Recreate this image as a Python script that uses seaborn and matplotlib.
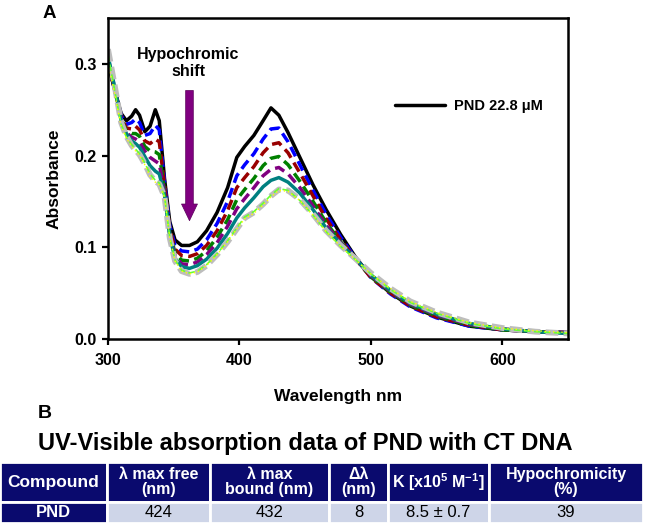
import numpy as np
import pandas as pd
import matplotlib
matplotlib.use("Agg")
import matplotlib.pyplot as plt
import seaborn as sns
from matplotlib.lines import Line2D


# =========================
#  Data
# =========================

wavelength = [300, 305, 310, 314, 318, 321, 324, 328, 332, 336,
              339, 343, 347, 351, 356, 362, 368, 375, 383, 391,
              398, 404, 411, 418, 424, 430, 437, 446, 456, 466,
              477, 488, 500, 515, 530, 550, 575, 600, 625, 650]

abs_black = [.300, .272, .246, .238, .243, .250, .244, .226, .232, .250,
             .238, .175, .128, .108, .102, .102, .106, .118, .138, .165,
             .198, .210, .222, .238, .252, .244, .225, .198, .168, .141,
             .114, .090, .068, .050, .036, .024, .014, .010, .008, .007]
abs_blue = [.302, .272, .244, .234, .236, .240, .236, .222, .224, .233,
            .228, .172, .124, .102, .096, .095, .098, .108, .126, .150,
            .178, .190, .202, .218, .229, .230, .215, .190, .162, .136,
            .111, .089, .067, .049, .035, .023, .014, .010, .008, .007]
abs_red = [.303, .272, .242, .230, .229, .232, .228, .216, .213, .218,
           .215, .168, .120, .098, .091, .090, .093, .102, .118, .140,
           .165, .176, .188, .203, .212, .214, .203, .181, .156, .131,
           .108, .088, .067, .050, .036, .024, .015, .010, .008, .007]
abs_green = [.305, .273, .240, .227, .224, .224, .221, .210, .205, .204,
             .201, .163, .116, .094, .086, .085, .088, .096, .111, .130,
             .152, .163, .175, .189, .197, .199, .190, .172, .150, .127,
             .106, .088, .068, .051, .037, .025, .015, .010, .008, .007]
abs_purple = [.307, .274, .239, .225, .220, .218, .215, .205, .198, .194,
              .191, .160, .114, .091, .082, .081, .084, .092, .105, .123,
              .142, .153, .165, .178, .185, .187, .180, .165, .145, .124,
              .105, .088, .069, .052, .038, .026, .016, .011, .008, .007]
abs_teal = [.309, .275, .238, .224, .216, .213, .209, .199, .189, .183,
            .180, .157, .112, .088, .079, .077, .080, .087, .099, .115,
            .132, .143, .154, .166, .173, .176, .171, .159, .141, .121,
            .104, .088, .070, .053, .039, .027, .017, .011, .008, .006]
abs_grey = [.316, .277, .236, .221, .211, .206, .201, .191, .179, .172,
            .169, .155, .110, .085, .074, .071, .073, .080, .092, .106,
            .120, .132, .138, .147, .156, .163, .162, .152, .136, .118,
            .102, .088, .072, .055, .041, .029, .018, .012, .008, .006]
abs_lime = [.310, .272, .234, .220, .212, .207, .202, .192, .180, .173,
            .170, .156, .111, .086, .075, .072, .074, .081, .093, .107,
            .121, .133, .139, .148, .157, .164, .162, .151, .135, .117,
            .101, .087, .071, .054, .040, .028, .017, .011, .008, .006]
abs_yellow = [.300, .268, .232, .219, .210, .205, .200, .190, .177, .171,
              .168, .154, .110, .085, .074, .071, .073, .080, .092, .106,
              .120, .131, .137, .146, .155, .162, .161, .151, .135, .117,
              .101, .087, .071, .055, .041, .029, .018, .012, .009, .007]

curve_names = ["black", "blue", "red", "green", "purple", "teal", "grey", "lime", "yellow"]
curve_values = [abs_black, abs_blue, abs_red, abs_green, abs_purple,
                abs_teal, abs_grey, abs_lime, abs_yellow]

legend_label = "PND 22.8 \u03bcM"

table_columns = ["Compound", "\u03bb max free\n(nm)", "\u03bb max\nbound (nm)",
                 "\u0394\u03bb\n(nm)", "K [x10$^{5}$ M$^{-1}$]", "Hypochromicity\n(%)"]
table_row = ["PND", "424", "432", "8", "8.5 \u00b1 0.7", "39"]

# =========================
#  Styles
# =========================

palette = {"black": "#000000", "blue": "#0000FF", "red": "#990000",
           "green": "#008000", "purple": "#800080", "teal": "#008080",
           "grey": "#BDBDBD", "lime": "#66FF33", "yellow": "#FFFF00"}
dashes = {"black": "", "blue": (3, 1.6), "red": (3, 1.6), "green": (3, 1.6),
          "purple": (3, 1.6), "teal": "", "grey": (2.2, 0.9),
          "lime": (4, 2), "yellow": (1, 2)}
sizes = {"black": 2.5, "blue": 2.5, "red": 2.5, "green": 2.5, "purple": 2.5,
         "teal": 2.5, "grey": 4.2, "lime": 1.2, "yellow": 1.0}

sns.set_style("ticks")
plt.rcParams["font.family"] = ["Liberation Sans", "DejaVu Sans"]
plt.rcParams["font.weight"] = "bold"
plt.rcParams["mathtext.default"] = "regular"
for key in ["text.color", "axes.labelcolor", "xtick.color", "ytick.color", "axes.edgecolor"]:
    plt.rcParams[key] = "black"

df = pd.DataFrame({
    "wavelength": np.tile(wavelength, len(curve_names)),
    "absorbance": np.concatenate(curve_values),
    "curve": np.repeat(curve_names, len(wavelength)),
})

fig = plt.figure(figsize=(6.46, 5.26), dpi=100)
ax = fig.add_axes([108 / 646, 1 - 339 / 526, 460 / 646, 321 / 526])

sns.lineplot(
    data=df, x="wavelength", y="absorbance",
    hue="curve", style="curve", size="curve",
    hue_order=curve_names, style_order=curve_names, size_order=curve_names,
    palette=palette, dashes=dashes, sizes=sizes,
    estimator=None, sort=False, legend=False, ax=ax,
)

ax.set_xlim(300, 650)
ax.set_ylim(0, 0.35)
ax.set_xticks([300, 400, 500, 600])
ax.set_yticks([0.0, 0.1, 0.2, 0.3])
ax.set_yticklabels(["0.0", "0.1", "0.2", "0.3"])
ax.tick_params(direction="out", length=4, width=1.6, labelsize=11.5, colors="black")
ax.tick_params(axis="x", pad=6)
ax.tick_params(axis="y", pad=4)
for lab in ax.get_xticklabels() + ax.get_yticklabels():
    lab.set_fontweight("bold")
for sp in ax.spines.values():
    sp.set_linewidth(1.8)
    sp.set_color("black")
    sp.set_visible(True)
ax.set_xlabel("Wavelength nm", fontsize=12.5, fontweight="bold", labelpad=15)
ax.set_ylabel("Absorbance", fontsize=12.5, fontweight="bold", labelpad=9)

# hypochromic shift annotation
ax.annotate("", xy=(362, 0.129), xytext=(362, 0.271),
            arrowprops=dict(width=5.5, headwidth=11.5, headlength=12,
                            facecolor="#800080", edgecolor="#5a005a", lw=0.5, shrink=0))
ax.text(361, 0.301, "Hypochromic\nshift", ha="center", va="center",
        fontsize=11.5, fontweight="bold", linespacing=1.15)

handle = Line2D([], [], color="black", lw=2.5)
ax.legend([handle], [legend_label], loc="center left", bbox_to_anchor=(0.624, 0.726),
          frameon=False, borderpad=0, borderaxespad=0, handlelength=3.4,
          handletextpad=0.65, prop={"size": 10.5, "weight": "bold"})

fig.text(43 / 646, 1 - 18 / 526, "A", fontsize=13.5, fontweight="bold", va="baseline")
fig.text(38 / 646, 1 - 418 / 526, "B", fontsize=14, fontweight="bold", va="baseline")
fig.text(38 / 646, 1 - 450 / 526, "UV-Visible absorption data of PND with CT DNA",
         fontsize=17, fontweight="bold", va="baseline")

# =========================
#  Table
# =========================

tax = fig.add_axes([0.0, 1 - 523 / 526, 643 / 646, 61 / 526])
tax.axis("off")
col_w = [107, 103, 119, 59, 101, 154]
tab = tax.table(cellText=[table_row], colLabels=table_columns,
                colWidths=[w / sum(col_w) for w in col_w],
                cellLoc="center", bbox=[0, 0, 1, 1])
tab.auto_set_font_size(False)
navy = "#0A0A6E"
light = "#CED5E8"
for (r, c), cell in tab.get_celld().items():
    cell.set_edgecolor("white")
    cell.set_linewidth(2.0)
    txt = cell.get_text()
    if r == 0:
        cell.set_height(0.66)
        cell.set_facecolor(navy)
        txt.set_color("white")
        txt.set_fontweight("bold")
        txt.set_fontsize(12.5 if c == 0 else 11.5)
        txt.set_linespacing(1.0)
    else:
        cell.set_height(0.34)
        if c == 0:
            cell.set_facecolor(navy)
            txt.set_color("white")
            txt.set_fontweight("bold")
        else:
            cell.set_facecolor(light)
            txt.set_color("black")
            txt.set_fontweight("normal")
        txt.set_fontsize(12)

fig.savefig("out.png", dpi=100)
